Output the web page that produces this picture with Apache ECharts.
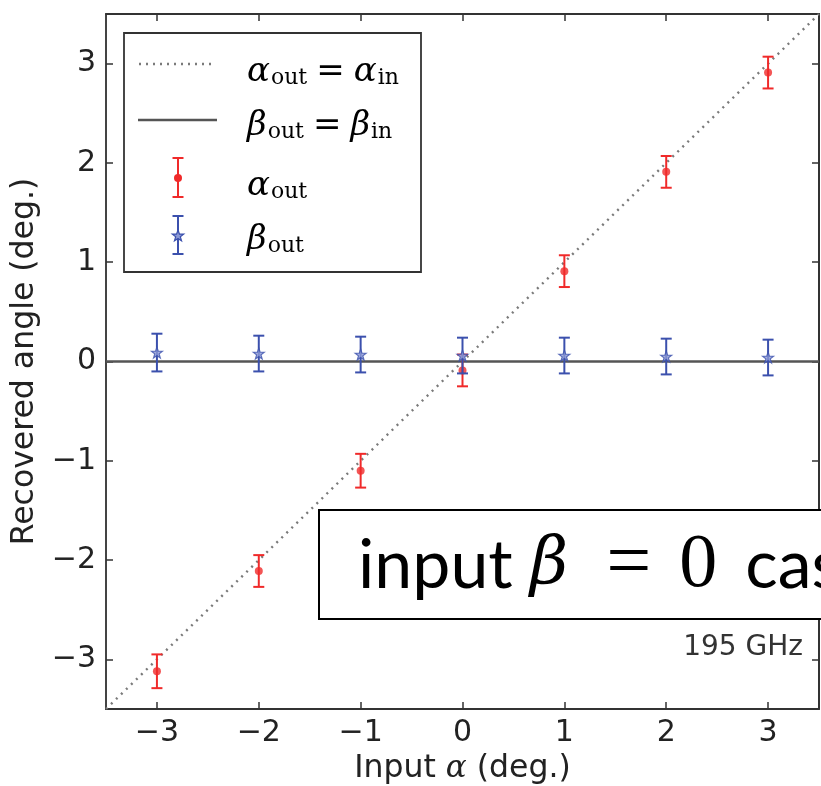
<!DOCTYPE html>
<html>
<head>
<meta charset="utf-8">
<script src="https://cdn.jsdelivr.net/npm/echarts@6/dist/echarts.min.js"></script>
<style>
  html, body { margin: 0; padding: 0; background: #fff; }
  #chart { width: 821px; height: 786px; }
</style>
</head>
<body>
<div id="chart"></div>
<script>
  // input angles (deg.)
  const inputAngles = [-3, -2, -1, 0, 1, 2, 3];
  // recovered alpha and its error
  const alphaOut = [-3.12, -2.11, -1.10, -0.09, 0.91, 1.91, 2.91];
  const alphaErr = [0.17, 0.16, 0.17, 0.16, 0.16, 0.16, 0.16];
  // recovered beta and its error
  const betaOut = [0.09, 0.08, 0.07, 0.06, 0.06, 0.05, 0.04];
  const betaErr = [0.19, 0.18, 0.18, 0.18, 0.18, 0.18, 0.18];
  // reference lines
  const identityLine = [[-3.5, -3.5], [3.5, 3.5]];
  const zeroLine = [[-3.5, 0], [3.5, 0]];
  const tickValues = [-3, -2, -1, 0, 1, 2, 3];

  const RED = '#f02a2a';
  const BLUE = '#3b50ad';

  const chart = echarts.init(document.getElementById('chart'));

  function errBar(color) {
    return function (params, api) {
      const x = api.value(0);
      const lo = api.coord([x, api.value(1)]);
      const hi = api.coord([x, api.value(2)]);
      const c = 5.5;
      const st = { stroke: color, lineWidth: 2 };
      return {
        type: 'group',
        children: [
          { type: 'line', shape: { x1: lo[0], y1: lo[1], x2: hi[0], y2: hi[1] }, style: st },
          { type: 'line', shape: { x1: lo[0] - c, y1: lo[1], x2: lo[0] + c, y2: lo[1] }, style: st },
          { type: 'line', shape: { x1: hi[0] - c, y1: hi[1], x2: hi[0] + c, y2: hi[1] }, style: st }
        ]
      };
    };
  }

  const alphaBars = inputAngles.map((x, i) => [x, alphaOut[i] - alphaErr[i], alphaOut[i] + alphaErr[i]]);
  const betaBars = inputAngles.map((x, i) => [x, betaOut[i] - betaErr[i], betaOut[i] + betaErr[i]]);
  const alphaPts = inputAngles.map((x, i) => [x, alphaOut[i]]);
  const betaPts = inputAngles.map((x, i) => [x, betaOut[i]]);

  const starPath = 'path://M0,-10L2.35,-3.24L9.51,-3.09L3.8,1.24L5.88,8.09L0,4L-5.88,8.09L-3.8,1.24L-9.51,-3.09L-2.35,-3.24Z';

  function starPoints(cx, cy, r) {
    const pts = [];
    for (let k = 0; k < 10; k++) {
      const a = -Math.PI / 2 + k * Math.PI / 5;
      const rr = k % 2 === 0 ? r : r * 0.4;
      pts.push([cx + rr * Math.cos(a), cy + rr * Math.sin(a)]);
    }
    return pts;
  }

  const axisCol = '#333';
  const tickFmt = v => String(v).replace('-', '\u2212');
  const labelFont = { fontFamily: 'DejaVu Sans', fontSize: 30, color: '#222' };
  const tickStyle = { inside: true, length: 7, customValues: tickValues, lineStyle: { color: axisCol, width: 1.5 } };

  const mathRich = {
    g: { fontFamily: 'DejaVu Serif', fontStyle: 'italic', fontSize: 34, color: '#111', verticalAlign: 'middle' },
    s: { fontFamily: 'DejaVu Serif', fontSize: 22, color: '#111', verticalAlign: 'bottom', padding: [0, 0, 0, 1] },
    e: { fontFamily: 'DejaVu Serif', fontSize: 34, color: '#111', verticalAlign: 'middle', padding: [0, 9, 0, 9] }
  };

  const option = {
    backgroundColor: '#fff',
    animation: false,
    grid: { left: 106, right: 2, top: 14, bottom: 77, outerBoundsMode: 'none', containLabel: false },
    xAxis: [
      {
        type: 'value', min: -3.5, max: 3.5, position: 'bottom',
        name: '{t|Input }{a|\u03b1}{t| (deg.)}',
        nameLocation: 'middle', nameGap: 44,
        nameTextStyle: {
          rich: {
            t: { fontFamily: 'DejaVu Sans', fontSize: 31.5, color: '#222' },
            a: { fontFamily: 'DejaVu Serif', fontStyle: 'italic', fontSize: 31, color: '#222' }
          }
        },
        axisLine: { onZero: false, lineStyle: { color: axisCol, width: 2 } },
        axisTick: tickStyle,
        axisLabel: Object.assign({ customValues: tickValues, margin: 9, formatter: tickFmt }, labelFont),
        splitLine: { show: false }
      },
      {
        type: 'value', min: -3.5, max: 3.5, position: 'top',
        axisLine: { onZero: false, lineStyle: { color: axisCol, width: 2 } },
        axisTick: tickStyle,
        axisLabel: { show: false },
        splitLine: { show: false }
      }
    ],
    yAxis: [
      {
        type: 'value', min: -3.5, max: 3.5, position: 'left',
        name: 'Recovered angle (deg.)', nameLocation: 'middle', nameGap: 64,
        nameTextStyle: { fontFamily: 'DejaVu Sans', fontSize: 31.5, color: '#222' },
        axisLine: { onZero: false, lineStyle: { color: '#444', width: 2 } },
        axisTick: tickStyle,
        axisLabel: Object.assign({ customValues: tickValues, margin: 10, formatter: tickFmt }, labelFont),
        splitLine: { show: false }
      },
      {
        type: 'value', min: -3.5, max: 3.5, position: 'right',
        axisLine: { onZero: false, lineStyle: { color: axisCol, width: 2 } },
        axisTick: tickStyle,
        axisLabel: { show: false },
        splitLine: { show: false }
      }
    ],
    series: [
      {
        name: 'alpha_in', type: 'line', data: identityLine, symbol: 'none', z: 2,
        lineStyle: { color: '#7a7a7a', width: 2.4, type: [2, 5] }
      },
      {
        name: 'beta_in', type: 'line', data: zeroLine, symbol: 'none', z: 2,
        lineStyle: { color: '#555', width: 2.6 }
      },
      {
        name: 'alpha_err', type: 'custom', data: alphaBars, renderItem: errBar(RED),
        encode: { x: 0, y: [1, 2] }, z: 3
      },
      {
        name: 'alpha_out', type: 'scatter', data: alphaPts, symbol: 'circle', symbolSize: 8, z: 4,
        itemStyle: { color: RED }
      },
      {
        name: 'beta_err', type: 'custom', data: betaBars, renderItem: errBar(BLUE),
        encode: { x: 0, y: [1, 2] }, z: 5
      },
      {
        name: 'beta_out', type: 'scatter', data: betaPts, symbol: starPath, symbolSize: 11, z: 6,
        itemStyle: { color: '#8d9ad6', borderColor: BLUE, borderWidth: 1.2 }
      }
    ],
    graphic: [
      // legend box
      { type: 'rect', shape: { x: 124, y: 33, width: 297, height: 239 }, style: { fill: '#fff', stroke: '#333', lineWidth: 1.8 }, z: 10 },
      { type: 'line', shape: { x1: 139, y1: 64, x2: 214, y2: 64 }, style: { stroke: '#7a7a7a', lineWidth: 2.4, lineDash: [2, 5] }, z: 11 },
      { type: 'line', shape: { x1: 138, y1: 120, x2: 217, y2: 120 }, style: { stroke: '#555', lineWidth: 2.6 }, z: 11 },
      { type: 'line', shape: { x1: 178, y1: 158, x2: 178, y2: 197 }, style: { stroke: RED, lineWidth: 2 }, z: 11 },
      { type: 'line', shape: { x1: 172.5, y1: 158, x2: 183.5, y2: 158 }, style: { stroke: RED, lineWidth: 2 }, z: 11 },
      { type: 'line', shape: { x1: 172.5, y1: 197, x2: 183.5, y2: 197 }, style: { stroke: RED, lineWidth: 2 }, z: 11 },
      { type: 'circle', shape: { cx: 178, cy: 178, r: 4 }, style: { fill: RED }, z: 12 },
      { type: 'line', shape: { x1: 178, y1: 216, x2: 178, y2: 254 }, style: { stroke: BLUE, lineWidth: 2 }, z: 11 },
      { type: 'line', shape: { x1: 172.5, y1: 216, x2: 183.5, y2: 216 }, style: { stroke: BLUE, lineWidth: 2 }, z: 11 },
      { type: 'line', shape: { x1: 172.5, y1: 254, x2: 183.5, y2: 254 }, style: { stroke: BLUE, lineWidth: 2 }, z: 11 },
      { type: 'polygon', shape: { points: starPoints(178, 236, 6) }, style: { fill: '#8d9ad6', stroke: BLUE, lineWidth: 1.2 }, z: 12 },
      { type: 'text', x: 247, y: 72, z: 12, style: { text: '{g|\u03b1}{s|out}{e|=}{g|\u03b1}{s|in}', rich: mathRich, verticalAlign: 'middle' } },
      { type: 'text', x: 247, y: 126, z: 12, style: { text: '{g|\u03b2}{s|out}{e|=}{g|\u03b2}{s|in}', rich: mathRich, verticalAlign: 'middle' } },
      { type: 'text', x: 247, y: 186, z: 12, style: { text: '{g|\u03b1}{s|out}', rich: mathRich, verticalAlign: 'middle' } },
      { type: 'text', x: 247, y: 240, z: 12, style: { text: '{g|\u03b2}{s|out}', rich: mathRich, verticalAlign: 'middle' } },
      // annotation box
      { type: 'rect', shape: { x: 319, y: 510, width: 540, height: 109 }, style: { fill: '#fff', stroke: '#000', lineWidth: 2 }, z: 10 },
      {
        type: 'text', x: 358, y: 566, z: 12,
        style: {
          text: '{t|input }{b|\u03b2}{e|=}{m|0}{t|case}',
          verticalAlign: 'middle',
          rich: {
            t: { fontFamily: 'Lato', fontSize: 68, color: '#000' },
            b: { fontFamily: 'DejaVu Serif', fontStyle: 'italic', fontSize: 66, color: '#000' },
            e: { fontFamily: 'Liberation Serif', fontSize: 80, color: '#000', padding: [0, 28, 0, 38] },
            m: { fontFamily: 'Liberation Serif', fontSize: 76, color: '#000', padding: [0, 28, 0, 0] }
          }
        }
      },
      {
        type: 'text', x: 803, y: 648, z: 12,
        style: { text: '195 GHz', fontFamily: 'DejaVu Sans', fontSize: 28, fill: '#333', align: 'right', verticalAlign: 'middle' }
      }
    ]
  };

  chart.setOption(option);
</script>
</body>
</html>
